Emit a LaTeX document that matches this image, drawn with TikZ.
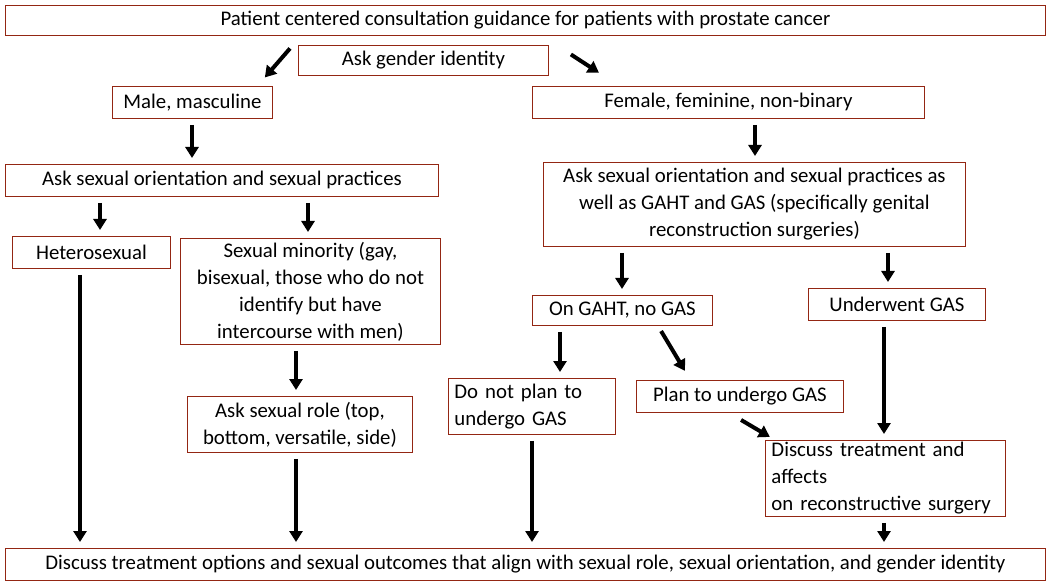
\documentclass[tikz,border=0pt]{standalone}
\usepackage{fontspec}
\setmainfont{Carlito}
\usetikzlibrary{arrows.meta,calc}
\begin{document}
\begin{tikzpicture}[x=1pt,y=-1pt,
 box/.style={draw=black!50!red!70!brown, line width=0.9pt, anchor=north west, inner sep=2pt, font=\fontsize{20.8}{27}\selectfont, align=center},
 arr/.style={line width=4pt, -{Triangle[length=11pt,width=13pt]}, shorten <=6pt, shorten >=6pt}]
\useasboundingbox (0,0) rectangle (1050,588);
\node[box, minimum width=1040, minimum height=30] (title) at (5,5) {Patient centered consultation guidance for patients with prostate cancer};
\node[box, minimum width=250, minimum height=30] (gid) at (298,45) {Ask gender identity};
\node[box, minimum width=160, minimum height=32] (male) at (112,86) {Male, masculine};
\node[box, minimum width=392, minimum height=32] (fem) at (532,86) {Female, feminine, non-binary};
\node[box, minimum width=433, minimum height=32] (lask) at (5,164) {Ask sexual orientation and sexual practices};
\node[box, minimum width=422, minimum height=84] (rask) at (543,162) {Ask sexual orientation and sexual practices as\\well as GAHT and GAS (specifically genital\\reconstruction surgeries)};
\node[box, minimum width=158, minimum height=32] (het) at (12,236) {Heterosexual};
\node[box, minimum width=260, minimum height=106] (min) at (180,238) {Sexual minority (gay,\\bisexual, those who do not\\identify but have\\intercourse with men)};
\node[box, minimum width=180, minimum height=30] (gaht) at (532,295) {On GAHT, no GAS};
\node[box, minimum width=177, minimum height=32] (und) at (808,288) {Underwent GAS};
\node[box, minimum width=167, minimum height=56, text width=155, align=left] (dnp) at (448,378) {Do not plan to\\undergo GAS};
\node[box, minimum width=207, minimum height=32] (plan) at (636,380) {Plan to undergo GAS};
\node[box, minimum width=225, minimum height=56] (role) at (187,396) {Ask sexual role (top,\\bottom, versatile, side)};
\node[box, minimum width=240, minimum height=62, text width=228, align=left] (disc) at (765,440) {Discuss treatment and affects\\on reconstructive surgery};
\node[box, minimum width=1040, minimum height=32] (bot) at (5,548) {Discuss treatment options and sexual outcomes that align with sexual role, sexual orientation, and gender identity};
% arrows
\draw[arr, shorten <=0pt] ($(gid.west)+(-8,-12)$) -- ($(male.north east)+(-12,-4)$);
\draw[arr, shorten <=0pt] ($(gid.east)+(22,-6)$) -- ($(fem.north west)+(72,-10)$);
\draw[arr] (male.south -| 192,0) -- (lask.north -| 192,0);
\draw[arr] (fem.south -| 755,0) -- (rask.north -| 755,0);
\draw[arr] (lask.south -| 100,0) -- (het.north -| 100,0);
\draw[arr] (lask.south -| 308,0) -- (min.north -| 308,0);
\draw[arr] (rask.south -| 622,0) -- (gaht.north -| 622,0);
\draw[arr] (rask.south -| 888,0) -- (und.north -| 888,0);
\draw[arr] (gaht.south -| 560,0) -- (dnp.north -| 560,0);
\draw[arr] (gaht.south -| 658,0) -- ($(plan.north west)+(52,-4)$);
\draw[arr] (min.south -| 296,0) -- (role.north -| 296,0);
\draw[arr] ($(plan.south east)+(-108,4)$) -- ($(disc.north west)+(10,0)$);
\draw[arr] (und.south -| 884,0) -- (disc.north -| 884,0);
\draw[arr] (het.south -| 80,0) -- (bot.north -| 80,0);
\draw[arr] (role.south -| 296,0) -- (bot.north -| 296,0);
\draw[arr] (dnp.south -| 532,0) -- (bot.north -| 532,0);
\draw[arr] (disc.south -| 884,0) -- (bot.north -| 884,0);
\end{tikzpicture}
\end{document}
